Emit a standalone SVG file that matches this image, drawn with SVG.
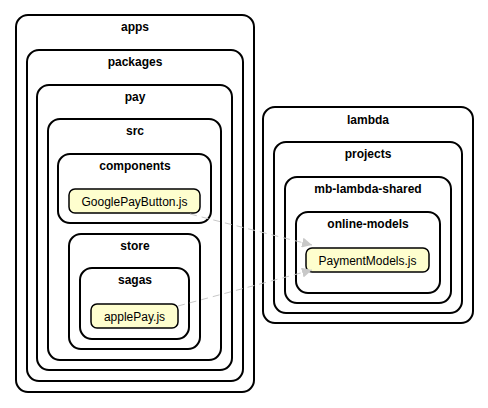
<svg xmlns="http://www.w3.org/2000/svg" width="488" height="408" viewBox="0 0 488 408">
<defs>
<style>
.c{fill:none;stroke:#000;stroke-width:2}
.t{font-family:"Liberation Sans",Arial,sans-serif;font-size:12px;font-weight:bold;text-anchor:middle;fill:#000}
.n{fill:#FEFECE;stroke:#000;stroke-width:1.5}
.nt{font-family:"Liberation Sans",Arial,sans-serif;font-size:12px;text-anchor:middle;fill:#000}
.e{fill:none;stroke:#C8C8C8;stroke-width:1;stroke-dasharray:7,5}
</style>
<marker id="ah" viewBox="0 0 10 10" refX="10" refY="5" markerWidth="10" markerHeight="10" markerUnits="userSpaceOnUse" orient="auto">
<path d="M0,0 L10,5 L0,10 z" fill="#C8C8C8"/>
</marker>
</defs>
<rect width="488" height="408" fill="#fff"/>
<g id="apps"><rect class="c" x="16" y="15" width="238" height="377" rx="12"/><text class="t" x="135" y="31">apps</text></g>
<g id="packages"><rect class="c" x="27" y="50" width="216" height="331" rx="12"/><text class="t" x="135" y="66">packages</text></g>
<g id="pay"><rect class="c" x="37" y="85" width="195" height="285" rx="12"/><text class="t" x="135" y="101">pay</text></g>
<g id="src"><rect class="c" x="48" y="119" width="173" height="241" rx="12"/><text class="t" x="135" y="135">src</text></g>
<g id="components"><rect class="c" x="58" y="154" width="153" height="69" rx="12"/><text class="t" x="135" y="170">components</text></g>
<g id="GooglePayButton"><rect class="n" x="69" y="189" width="131" height="24" rx="6"/><text class="nt" x="134.5" y="205.5">GooglePayButton.js</text></g>
<g id="store"><rect class="c" x="69" y="234" width="131" height="115" rx="12"/><text class="t" x="135" y="250">store</text></g>
<g id="sagas"><rect class="c" x="80" y="268" width="109" height="71" rx="12"/><text class="t" x="135" y="284">sagas</text></g>
<g id="applePay"><rect class="n" x="91" y="304" width="87" height="24" rx="6"/><text class="nt" x="134.5" y="320.5">applePay.js</text></g>
<g id="lambda"><rect class="c" x="263" y="107" width="210" height="216" rx="12"/><text class="t" x="368" y="124">lambda</text></g>
<g id="projects"><rect class="c" x="274" y="142" width="188" height="171" rx="12"/><text class="t" x="368" y="158">projects</text></g>
<g id="mb-lambda-shared"><rect class="c" x="285" y="177" width="166" height="126" rx="12"/><text class="t" x="368" y="193">mb-lambda-shared</text></g>
<g id="online-models"><rect class="c" x="296" y="212" width="144" height="81" rx="12"/><text class="t" x="368" y="228">online-models</text></g>
<g id="PaymentModels"><rect class="n" x="306" y="248" width="123" height="24" rx="6"/><text class="nt" x="367.5" y="264.5">PaymentModels.js</text></g>
<g id="connectors">
<path class="e" d="M190,214 L312,245" marker-end="url(#ah)"/>
<path class="e" d="M178,306 L312,270" marker-end="url(#ah)"/>
</g>
</svg>
